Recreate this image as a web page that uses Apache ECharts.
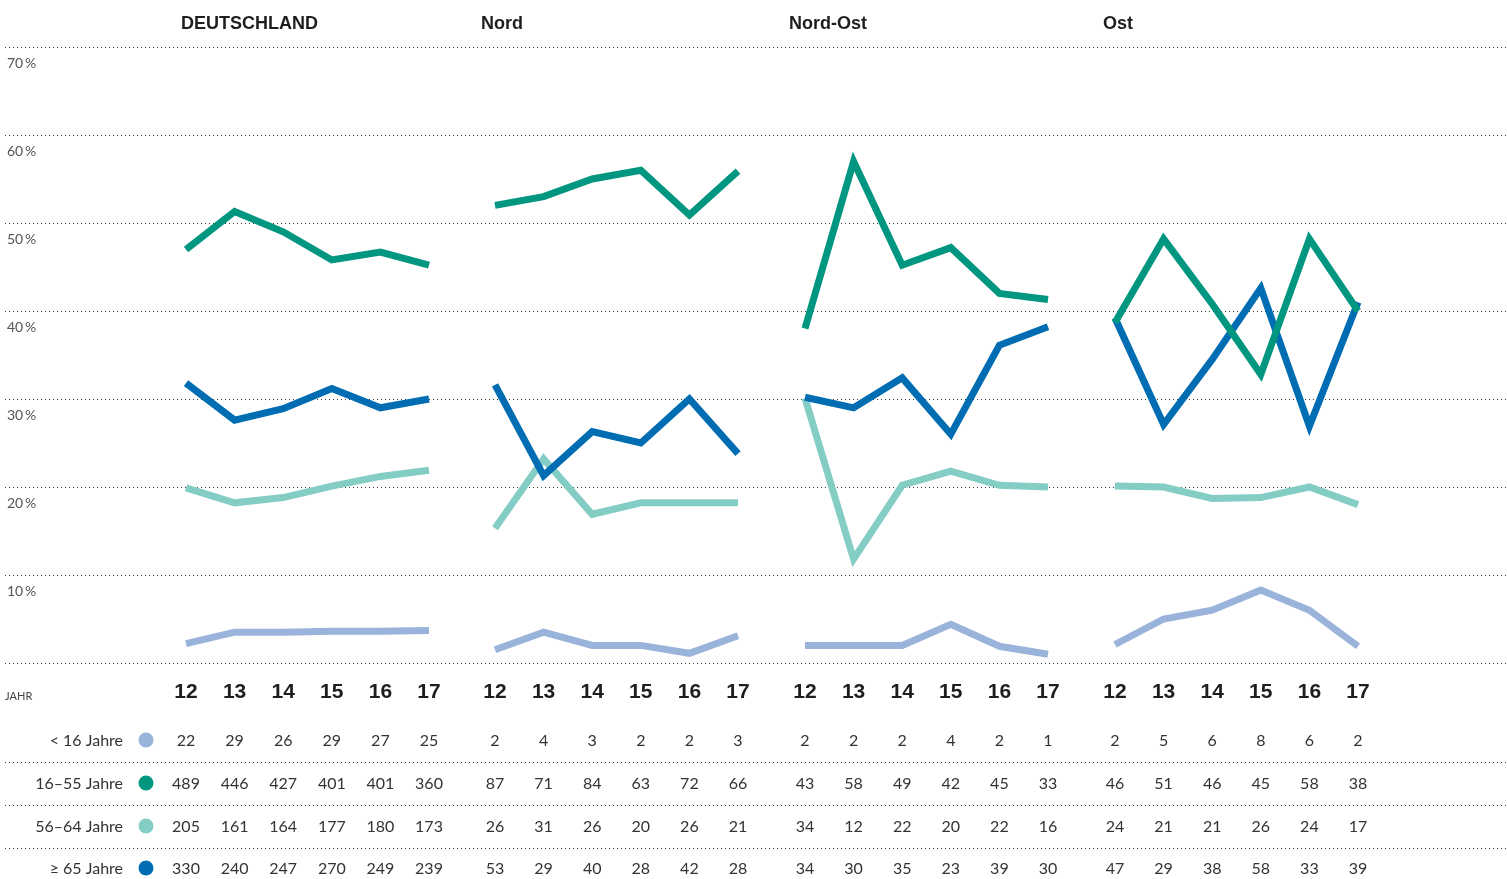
<!DOCTYPE html>
<html lang="de">
<head>
<meta charset="utf-8">
<title>Altersgruppen nach Region</title>
<script src="https://cdn.jsdelivr.net/npm/echarts@6/dist/echarts.min.js"></script>
<style>
  html, body { margin: 0; padding: 0; background: #ffffff; }
  #chart { width: 1507px; height: 879px; }
</style>
</head>
<body>
<div id="chart"></div>
<script>
// ---- data ----
const years = ['12', '13', '14', '15', '16', '17'];
const regions = ['DEUTSCHLAND', 'Nord', 'Nord-Ost', 'Ost'];
const groups = ['< 16 Jahre', '16–55 Jahre', '56–64 Jahre', '≥ 65 Jahre'];
const yTicks = [0, 10, 20, 30, 40, 50, 60, 70];

// share of each age group in % (rows follow `groups`)
const shareDeutschland = [
  [2.2, 3.5, 3.5, 3.6, 3.6, 3.7],
  [47.0, 51.3, 49.0, 45.8, 46.7, 45.2],
  [19.9, 18.2, 18.8, 20.1, 21.2, 21.9],
  [31.8, 27.6, 28.9, 31.2, 29.0, 30.0]
];
const shareNord = [
  [1.5, 3.5, 2.0, 2.0, 1.1, 3.1],
  [52.0, 53.0, 55.0, 56.0, 50.9, 55.9],
  [15.3, 23.2, 16.9, 18.2, 18.2, 18.2],
  [31.6, 21.3, 26.3, 25.0, 30.0, 23.8]
];
const shareNordOst = [
  [2.0, 2.0, 2.0, 4.4, 1.9, 1.0],
  [38.0, 57.0, 45.2, 47.2, 42.0, 41.3],
  [30.1, 11.8, 20.2, 21.8, 20.2, 20.0],
  [30.2, 29.0, 32.4, 26.0, 36.1, 38.2]
];
const shareOst = [
  [2.1, 5.0, 6.0, 8.3, 6.0, 1.9],
  [38.7, 48.2, 40.8, 32.8, 48.2, 40.0],
  [20.1, 20.0, 18.7, 18.8, 20.0, 18.0],
  [39.2, 27.1, 34.5, 42.6, 26.9, 41.0]
];

// case counts (rows follow `groups`)
const countDeutschland = [
  [22, 29, 26, 29, 27, 25],
  [489, 446, 427, 401, 401, 360],
  [205, 161, 164, 177, 180, 173],
  [330, 240, 247, 270, 249, 239]
];
const countNord = [
  [2, 4, 3, 2, 2, 3],
  [87, 71, 84, 63, 72, 66],
  [26, 31, 26, 20, 26, 21],
  [53, 29, 40, 28, 42, 28]
];
const countNordOst = [
  [2, 2, 2, 4, 2, 1],
  [43, 58, 49, 42, 45, 33],
  [34, 12, 22, 20, 22, 16],
  [34, 30, 35, 23, 39, 30]
];
const countOst = [
  [2, 5, 6, 8, 6, 2],
  [46, 51, 46, 45, 58, 38],
  [24, 21, 21, 26, 24, 17],
  [47, 29, 38, 58, 33, 39]
];

const shares = [shareDeutschland, shareNord, shareNordOst, shareOst];
const counts = [countDeutschland, countNord, countNordOst, countOst];

// ---- styling / layout ----
const groupColors = ['#9ab3da', '#00967f', '#84cdc4', '#006db3'];
const groupZ = [2, 5, 3, 4];
const panelLeft = [186, 495, 805, 1115];
const panelWidth = 243;
const titleLeft = [176, 476, 784, 1098];
const plotTop = 47;
const plotBottomY = 663;
const chartH = 879;
const rowY = [741, 784, 827, 869];
const sepY = [762.5, 805.5, 848.5];
const numFont = 'Lato, "Open Sans", sans-serif';
const boldFont = '"Liberation Sans", Arial, sans-serif';
const dotted = [1, 3];

const grids = [{ left: 5, right: 0, top: plotTop, bottom: chartH - plotBottomY }];
panelLeft.forEach(l => grids.push({ left: l, width: panelWidth, top: plotTop, bottom: chartH - plotBottomY }));

const xAxes = [{ type: 'value', gridIndex: 0, show: false, min: 0, max: 1 }];
const yAxes = [{
  type: 'value', gridIndex: 0, min: yTicks[0], max: yTicks[yTicks.length - 1], interval: 10,
  axisLine: { show: false }, axisTick: { show: false },
  splitLine: { show: true, lineStyle: { type: dotted, color: '#3a3a3a', width: 1 } },
  axisLabel: {
    inside: true, margin: 2, verticalAlign: 'top', padding: [9, 0, 0, 0],
    formatter: v => (v === 0 ? '' : v + '\u2009%'),
    fontFamily: numFont, fontSize: 14, color: '#555'
  }
}];
const series = [];

regions.forEach((region, p) => {
  const g = p + 1;
  const yearAxisIndex = xAxes.length;
  // year labels
  xAxes.push({
    type: 'category', gridIndex: g, data: years, boundaryGap: false,
    axisLine: { show: false }, axisTick: { show: false }, splitLine: { show: false },
    axisLabel: {
      interval: 0, margin: 29, verticalAlign: 'middle',
      fontFamily: boldFont, fontWeight: 'bold', fontSize: 21, color: '#1e1e1e'
    }
  });
  // count rows under each year
  groups.forEach((grp, r) => {
    xAxes.push({
      type: 'category', gridIndex: g, position: 'bottom', offset: rowY[r] - plotBottomY,
      data: counts[p][r].map(String), boundaryGap: false,
      axisLine: { show: false }, axisTick: { show: false }, splitLine: { show: false },
      axisLabel: {
        interval: 0, margin: 0, verticalAlign: 'middle',
        fontFamily: numFont, fontSize: 16, color: '#333'
      }
    });
  });
  yAxes.push({ type: 'value', gridIndex: g, min: 0, max: 70, interval: 10, show: false, splitLine: { show: false } });

  groups.forEach((grp, r) => {
    series.push({
      type: 'line', name: grp,
      xAxisIndex: yearAxisIndex, yAxisIndex: g,
      data: shares[p][r],
      symbol: 'none', z: groupZ[r],
      lineStyle: { color: groupColors[r], width: 7, cap: 'butt', join: 'miter', miterLimit: 10 },
      emphasis: { disabled: true }
    });
  });
});

// row captions, colour dots, separators
const graphic = [{
  type: 'text', x: 5, y: 696,
  style: { text: 'JAHR', align: 'left', verticalAlign: 'middle', fontFamily: numFont, fontSize: 11, fill: '#444' }
}];
groups.forEach((grp, r) => {
  graphic.push({
    type: 'text', x: 123, y: rowY[r],
    style: { text: grp, align: 'right', verticalAlign: 'middle', fontFamily: numFont, fontSize: 16, fill: '#333' }
  });
  graphic.push({
    type: 'circle', shape: { cx: 146, cy: rowY[r] - 1, r: 7.5 },
    style: { fill: groupColors[r] }
  });
});
sepY.forEach(y => {
  graphic.push({
    type: 'line', shape: { x1: 5, y1: y, x2: 1507, y2: y },
    style: { stroke: '#3a3a3a', lineWidth: 1, lineDash: dotted }
  });
});

const option = {
  animation: false,
  backgroundColor: '#ffffff',
  title: regions.map((r, i) => ({
    text: r, left: titleLeft[i], top: 10,
    textStyle: { fontFamily: boldFont, fontWeight: 'bold', fontSize: 18, color: '#1e1e1e' }
  })),
  grid: grids,
  xAxis: xAxes,
  yAxis: yAxes,
  series: series,
  graphic: graphic
};

const chart = echarts.init(document.getElementById('chart'), null, { renderer: 'canvas' });
chart.setOption(option);
</script>
</body>
</html>
